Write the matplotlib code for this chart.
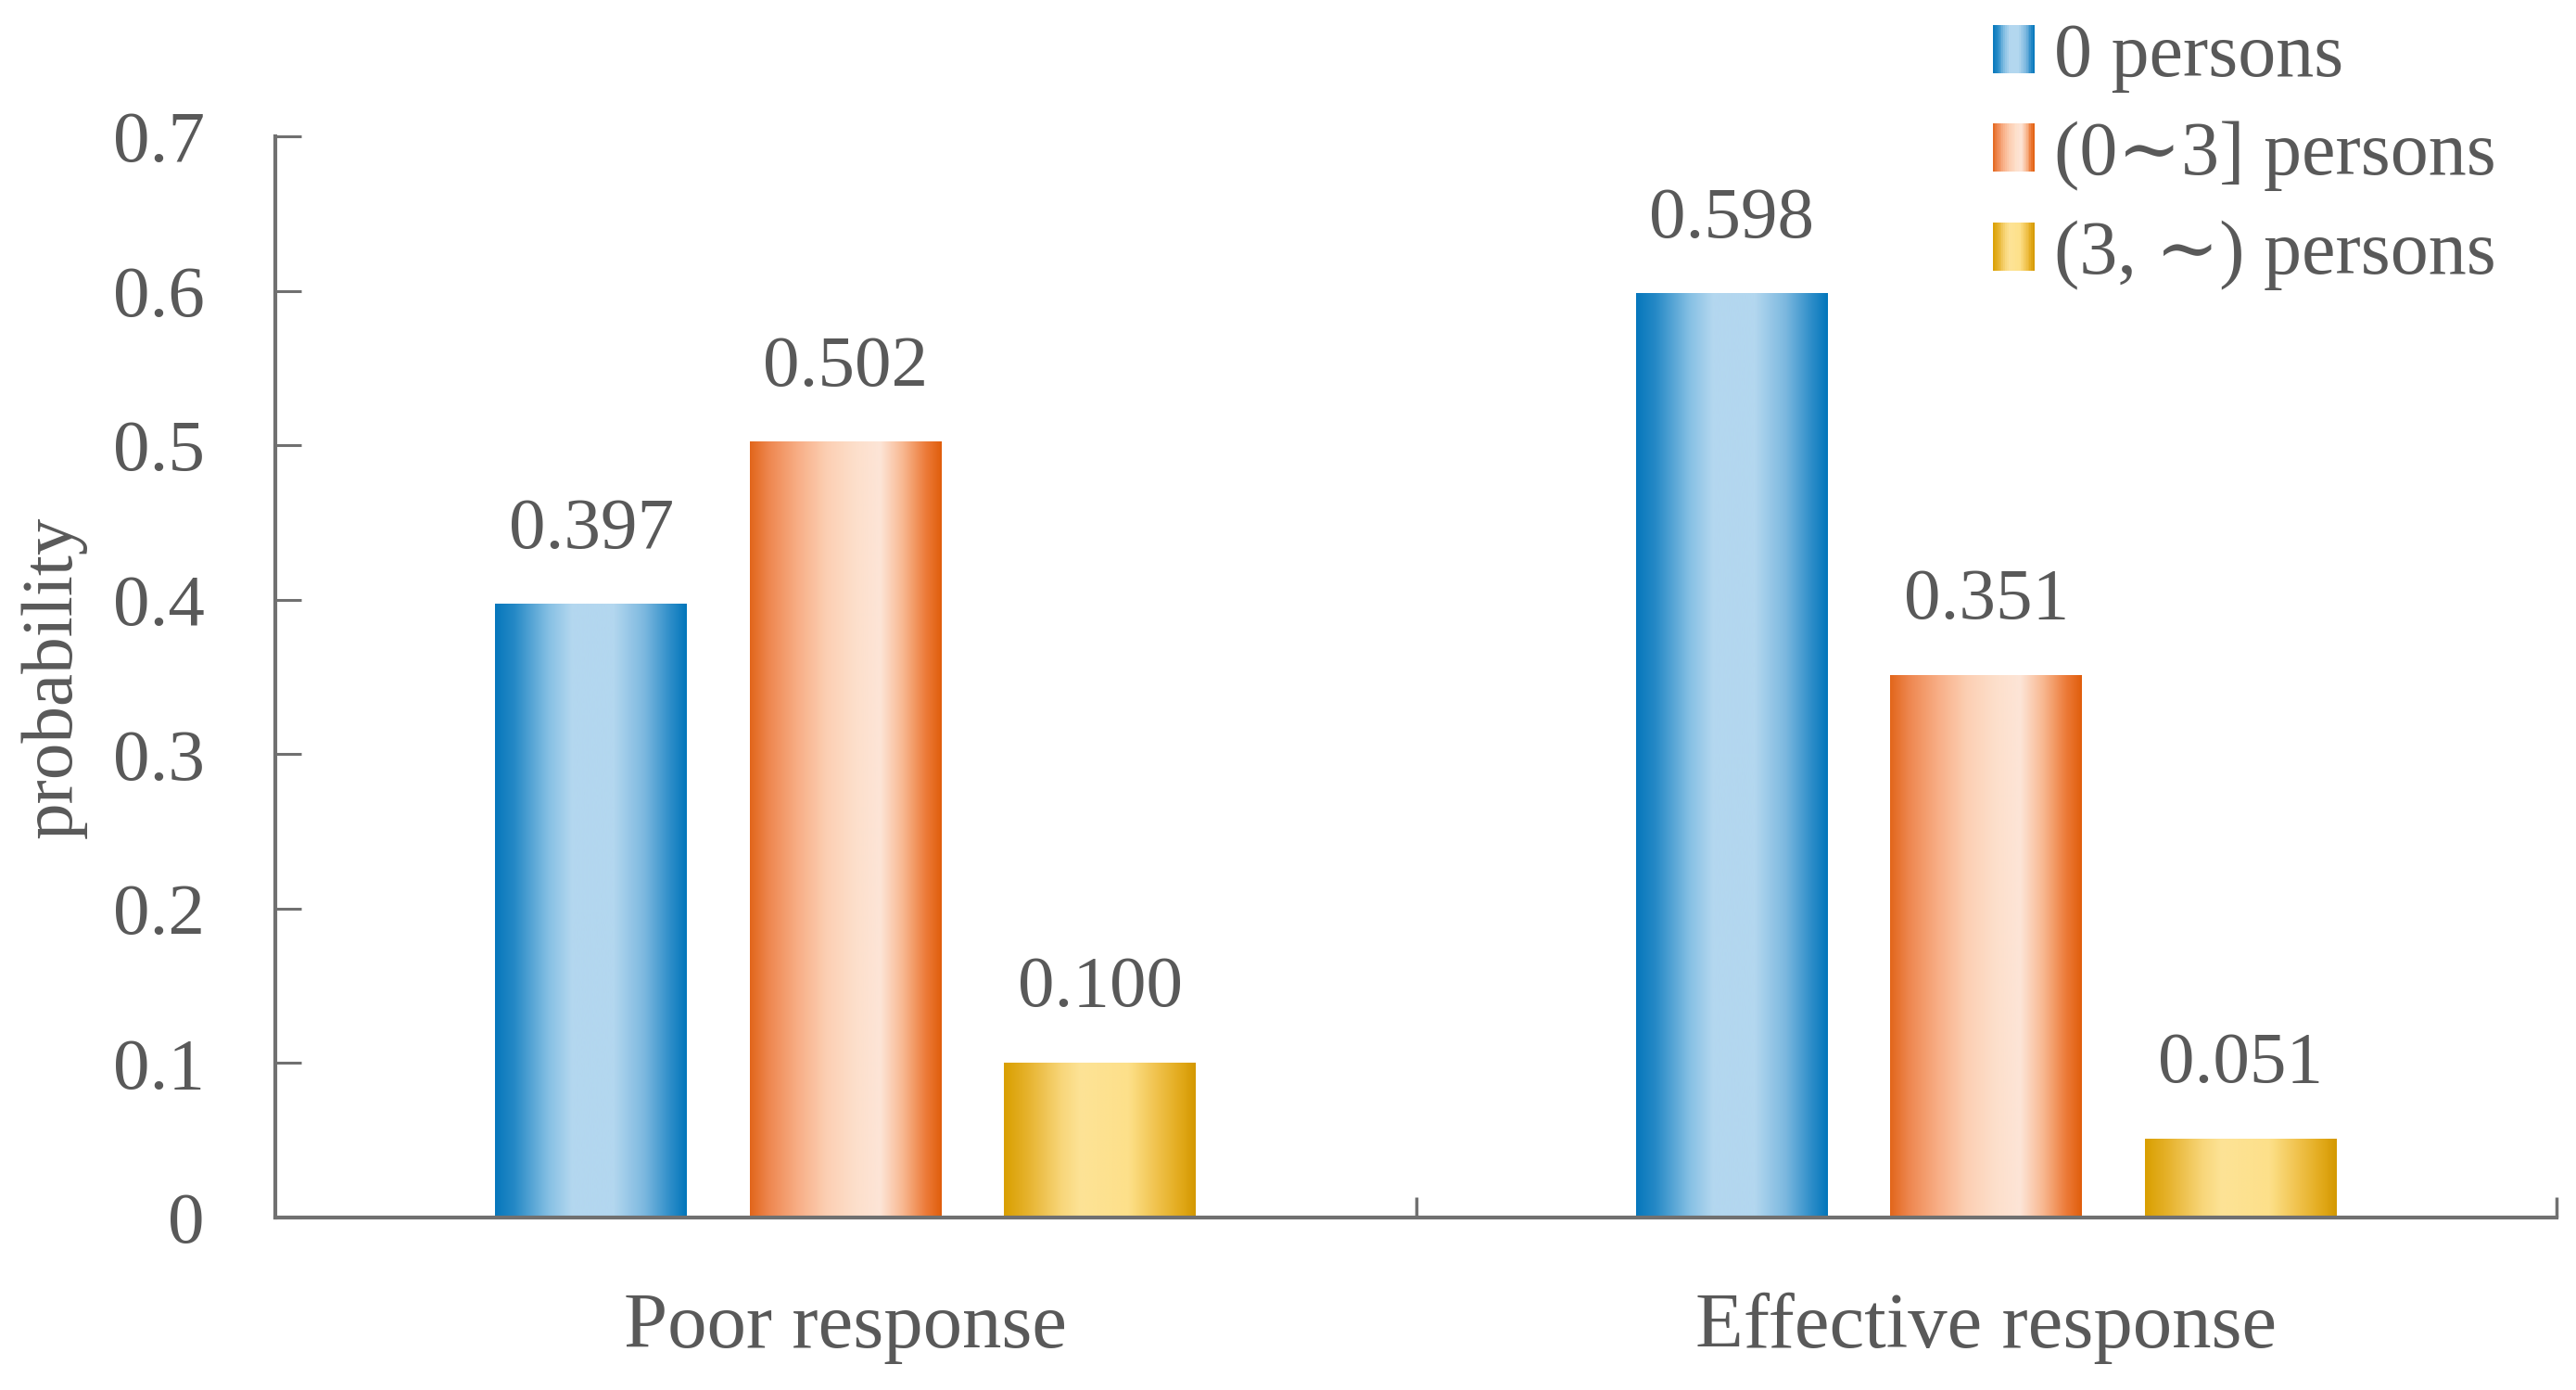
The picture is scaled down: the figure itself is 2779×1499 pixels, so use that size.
import numpy as np
import matplotlib
matplotlib.use("Agg")
import matplotlib.pyplot as plt
from matplotlib.colors import LinearSegmentedColormap
from matplotlib.patches import Rectangle
from matplotlib.legend_handler import HandlerBase

# ---------------- data ----------------
categories = ["Poor response", "Effective response"]
series_labels = ["0 persons", "(0\u223c3] persons", "(3, \u223c) persons"]
zero_persons = [0.397, 0.598]
zero_to_three = [0.502, 0.351]
over_three = [0.100, 0.051]
yticks = [0, 0.1, 0.2, 0.3, 0.4, 0.5, 0.6, 0.7]
ytick_labels = ["0", "0.1", "0.2", "0.3", "0.4", "0.5", "0.6", "0.7"]

series_values = [zero_persons, zero_to_three, over_three]

# ---------------- styles ----------------
FONT = ["Liberation Serif", "DejaVu Serif", "Noto Sans CJK SC"]
plt.rcParams["font.family"] = FONT
TXT = "#595959"
AXC = "#707070"

stops = [
    [(0.0, "#0677bc"), (0.10, "#2589c6"), (0.28, "#86c0e4"), (0.40, "#b3d7ef"),
     (0.62, "#b3d7ef"), (0.78, "#7cb8df"), (0.92, "#2b8cc8"), (1.0, "#0276bb")],
    [(0.0, "#e2661b"), (0.10, "#ee8750"), (0.25, "#f8ae86"), (0.40, "#fccfb3"),
     (0.55, "#fddfcb"), (0.68, "#fde5d7"), (0.80, "#f8b790"), (0.92, "#ec7a38"), (1.0, "#e05e0c")],
    [(0.0, "#d99f00"), (0.12, "#e6b22c"), (0.30, "#f8d67a"), (0.40, "#fde396"),
     (0.65, "#fde08a"), (0.80, "#f0c24c"), (0.92, "#e2aa1c"), (1.0, "#d49800")],
]
cmaps = [LinearSegmentedColormap.from_list(f"g{i}", s) for i, s in enumerate(stops)]

W, H, DPI = 2779, 1499, 100
fig = plt.figure(figsize=(W / DPI, H / DPI), dpi=DPI)
ax = fig.add_axes([297 / W, 186 / H, 2461 / W, 1166 / H])

x = np.arange(len(categories))
bar_w = 0.168
offsets = [-0.223, 0.0, 0.223]
grad = np.linspace(0, 1, 256).reshape(1, -1)

for vals, off, cm in zip(series_values, offsets, cmaps):
    bars = ax.bar(x + off, vals, width=bar_w, color="none", edgecolor="none", zorder=2)
    for p, v in zip(bars.patches, vals):
        x0, y0 = p.get_x(), p.get_y()
        ax.imshow(grad, cmap=cm, extent=[x0, x0 + p.get_width(), y0, y0 + p.get_height()],
                  aspect="auto", interpolation="bilinear", zorder=2)
        ax.annotate(f"{v:.3f}", xy=(x0 + p.get_width() / 2, v), xytext=(0, 44),
                    textcoords="offset points", ha="center", va="baseline",
                    fontsize=57, color=TXT, family=FONT)

ax.set_xlim(-0.5, 1.5)
ax.set_ylim(0, 0.7)

for s in ["top", "right"]:
    ax.spines[s].set_visible(False)
for s in ["left", "bottom"]:
    ax.spines[s].set_color(AXC)
    ax.spines[s].set_linewidth(3)

ax.set_yticks(yticks)
ax.set_yticklabels(ytick_labels)
ax.tick_params(axis="y", direction="in", length=20, width=2.2, color=AXC,
               pad=55, labelsize=57, labelcolor=TXT)
ax.set_xticks(x)
ax.set_xticklabels(categories)
ax.tick_params(axis="x", which="major", length=0, pad=58, labelsize=61, labelcolor=TXT)
ax.set_xticks([0.5, 1.5], minor=True)
ax.tick_params(axis="x", which="minor", direction="in", length=16, width=2.5, color=AXC)

ax.set_ylabel("probability", fontsize=57, color=TXT, va="center")
ax.yaxis.set_label_coords(-0.097, 0.5)


class GradHandler(HandlerBase):
    def __init__(self, cmap):
        super().__init__()
        self.cmap = cmap

    def create_artists(self, legend, orig_handle, xdescent, ydescent, width, height,
                       fontsize, trans):
        n = 24
        arts = []
        for i in range(n):
            r = Rectangle((-xdescent + width * i / n, -ydescent), width / n * 1.05, height,
                          facecolor=self.cmap((i + 0.5) / n), edgecolor="none",
                          transform=trans)
            arts.append(r)
        return arts


handles = [Rectangle((0, 0), 1, 1) for _ in series_labels]
leg = fig.legend(handles, series_labels, loc="upper left",
                 bbox_to_anchor=(2150 / W, 1 - 24 / H), frameon=False,
                 borderpad=0, borderaxespad=0, handlelength=0.55, handleheight=0.6,
                 handletextpad=0.25, labelspacing=0.38, fontsize=59,
                 handler_map={h: GradHandler(cm) for h, cm in zip(handles, cmaps)})
for t in leg.get_texts():
    t.set_color(TXT)

fig.savefig("out.png", dpi=DPI)
